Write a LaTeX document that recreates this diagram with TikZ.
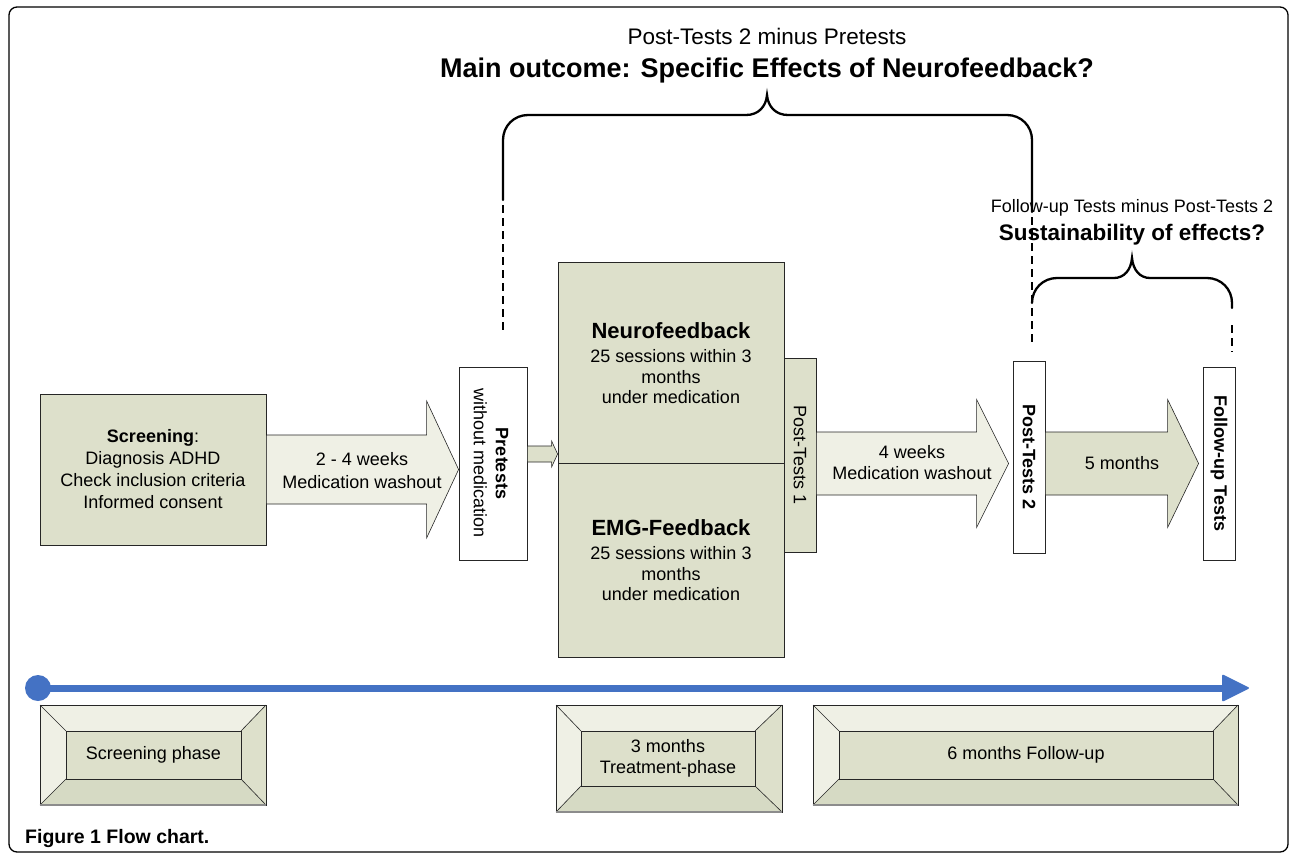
\documentclass[tikz,border=0pt]{standalone}
\usepackage{fontspec}
\setmainfont{Liberation Sans}
\usetikzlibrary{calc}
\definecolor{boxgreen}{RGB}{221,224,203}
\definecolor{lightfill}{RGB}{239,240,229}
\definecolor{bevdark}{RGB}{214,218,196}
\definecolor{tlblue}{RGB}{68,114,196}
\newcommand\myfs[2]{\fontsize{#1}{#2}\selectfont}
\newcommand\blockarr[6]{%
  \filldraw[#1] ($(#2)+(0,-#4)$) -- ($(#3)+(-#6,-#4)$) -- ($(#3)+(-#6,-#5)$) -- (#3) -- ($(#3)+(-#6,#5)$) -- ($(#3)+(-#6,#4)$) -- ($(#2)+(0,#4)$) -- cycle;}
\newcommand\bevelbox[9]{%
  \fill[lightfill] (#2,#3) -- (#4,#3) -- (#8,#7) -- (#6,#7) -- cycle;
  \fill[lightfill] (#2,#3) -- (#6,#7) -- (#6,#9) -- (#2,#5) -- cycle;
  \fill[boxgreen] (#4,#3) -- (#4,#5) -- (#8,#9) -- (#8,#7) -- cycle;
  \fill[bevdark] (#2,#5) -- (#4,#5) -- (#8,#9) -- (#6,#9) -- cycle;
  \draw[line width=0.6, black!85] (#2,#3) -- (#6,#7) (#4,#3) -- (#8,#7) (#2,#5) -- (#6,#9) (#4,#5) -- (#8,#9);
  \draw[line width=0.8, black!85] (#2,#3) rectangle (#4,#5);
  \draw[line width=1.6, black!45] (#2,#5) -- (#4,#5);
  \filldraw[fill=boxgreen, draw=black!85, line width=0.9] (#6,#7) rectangle (#8,#9);
  \coordinate (#1) at ({(#6+#8)/2},{(#7+#9)/2});}
\begin{document}
\begin{tikzpicture}[x=1pt,y=-1pt,
  greenbox/.style={draw=black!85, line width=0.8, fill=boxgreen, inner sep=0},
  whitebox/.style={draw=black!85, line width=0.8, fill=white, inner sep=0},
  lightarrow/.style={draw=black!85, line width=0.6, fill=lightfill},
  greenarrow/.style={draw=black!85, line width=0.6, fill=boxgreen},
  bracepath/.style={line width=2.3, line cap=round},
  dashpath/.style={line width=2.3, dash pattern=on 8pt off 5pt},
  txt/.style={align=center, inner sep=0, font=\myfs{18}{22}}]
\useasboundingbox (0,0) rectangle (1290,854);
\fill[white] (0,0) rectangle (1290,854);
\draw[line width=1.3, rounded corners=8] (9,7) rectangle (1288,852);

% titles
\node[txt, font=\myfs{22.5}{26}] (t1) at (767,36) {Post-Tests 2 minus Pretests};
\node[txt, font=\myfs{27}{30}\bfseries] (t2) at (767,71) {Main outcome: Specific Effects of Neurofeedback?};
\node[txt, font=\myfs{18}{22}] (t3) at (1132,208) {Follow-up Tests minus Post-Tests 2};
\node[txt, font=\myfs{22.5}{26}\bfseries] (t4) at (1132,235) {Sustainability of effects?};

% big brace
\draw[dashpath] (503,205) -- (503,330);
\draw[bracepath] (503,200) -- (503,140) .. controls (503,126) and (514,115) .. (528,115) -- (746,115)
  .. controls (758,115) and (766,107) .. (767,95) .. controls (768,107) and (776,115) .. (788,115)
  -- (1007,115) .. controls (1021,115) and (1032,126) .. (1032,140) -- (1032,212);
\draw[dashpath] (1032,217) -- (1032,343);
% small brace
\draw[bracepath] (1032,303) .. controls (1032,289) and (1043,278) .. (1057,278) -- (1114,278)
  .. controls (1124,278) and (1131,270) .. (1132,258) .. controls (1133,270) and (1140,278) .. (1150,278)
  -- (1207,278) .. controls (1221,278) and (1232,289) .. (1232,303) -- (1232,308);
\draw[dashpath] (1232,325) -- (1232,352);

% boxes
\node[greenbox, minimum width=226, minimum height=151] (scr) at (153,469.5) {};
\node[txt] at (scr.center) {\textbf{Screening}:\\Diagnosis ADHD\\Check inclusion criteria\\Informed consent};
\node[whitebox, minimum width=68, minimum height=193] (pre) at (493,463.5) {};
\node[greenbox, minimum width=226, minimum height=201] (nf) at (671,362.5) {};
\node[greenbox, minimum width=226, minimum height=194] (emg) at (671,560) {};
\node[greenbox, minimum width=32, minimum height=194] (pt1) at (800,455) {};
\node[whitebox, minimum width=32, minimum height=192] (pt2) at (1029,457) {};
\node[whitebox, minimum width=32, minimum height=193] (fu) at (1219,463.5) {};

% block arrows
\coordinate (a1s) at (scr.east);
\coordinate (a1t) at (pre.west |- scr.east);
\blockarr{lightarrow}{a1s}{a1t}{34.5}{68.5}{32}
\coordinate (a0s) at ($(pre.east)+(0,-9.5)$);
\coordinate (a0t) at (nf.west |- a0s);
\blockarr{greenarrow}{a0s}{a0t}{8}{13}{6}
\coordinate (a2s) at (pt1.east |- fu.center);
\coordinate (a2t) at ($(pt2.west |- fu.center)+(-4,0)$);
\blockarr{lightarrow}{a2s}{a2t}{31.5}{64}{32}
\coordinate (a3s) at (pt2.east |- fu.center);
\coordinate (a3t) at ($(fu.west)+(-4,0)$);
\blockarr{greenarrow}{a3s}{a3t}{31.5}{64}{31}

% texts
\node[txt, font=\myfs{18}{23}] (a1l) at (362,470.5) {2 - 4 weeks\\Medication washout};
\node[txt, rotate=-90] (prel) at ($(pre.center)+(-2,0)$) {\textbf{Pretests}\\without medication};
\node[txt, font=\myfs{22}{26}\bfseries] (nft) at (671,331) {Neurofeedback};
\node[txt, font=\myfs{18}{20.5}] (nfs) at (671,377) {25 sessions within 3\\months\\under medication};
\node[txt, font=\myfs{22}{26}\bfseries] (emgt) at (671,528) {EMG-Feedback};
\node[txt, font=\myfs{18}{20.5}] (emgs) at (671,574) {25 sessions within 3\\months\\under medication};
\node[txt, rotate=-90] (pt1l) at (pt1.center) {Post-Tests 1};
\node[txt, font=\myfs{18}{21}] (a2l) at (912,463) {4 weeks\\Medication washout};
\node[txt, rotate=-90, font=\myfs{18}{22}\bfseries] (pt2l) at (pt2.center) {Post-Tests 2};
\node[txt] (a3l) at (1122,463) {5 months};
\node[txt, rotate=-90, font=\myfs{18}{22}\bfseries] (ful) at (fu.center) {Follow-up Tests};

% timeline
\node[circle, fill=tlblue, inner sep=0, minimum size=26] (tls) at (38,688) {};
\coordinate (tle) at (1250,688);
\draw[tlblue, line width=7] (tls.center) -- ($(tle)+(-26,0)$);
\fill[tlblue, rounded corners=2] ($(tle)+(-28,-14)$) -- (tle) -- ($(tle)+(-28,14)$) -- cycle;

% phases
\bevelbox{bv1}{40}{705}{266}{805}{66}{731}{241}{779}
\node[txt] (bv1l) at (bv1) {Screening phase};
\bevelbox{bv2}{556}{705}{782}{812}{581}{731}{755}{786}
\node[txt, font=\myfs{18}{21}] (bv2l) at (bv2) {3 months\\Treatment-phase};
\bevelbox{bv3}{813}{705}{1238}{805}{839}{731}{1213}{779}
\node[txt] (bv3l) at (bv3) {6 months Follow-up};

% caption
\node[anchor=base west, inner sep=0, font=\myfs{19.5}{22}\bfseries] (cap) at (25,843) {Figure 1 Flow chart.};
\end{tikzpicture}
\end{document}
